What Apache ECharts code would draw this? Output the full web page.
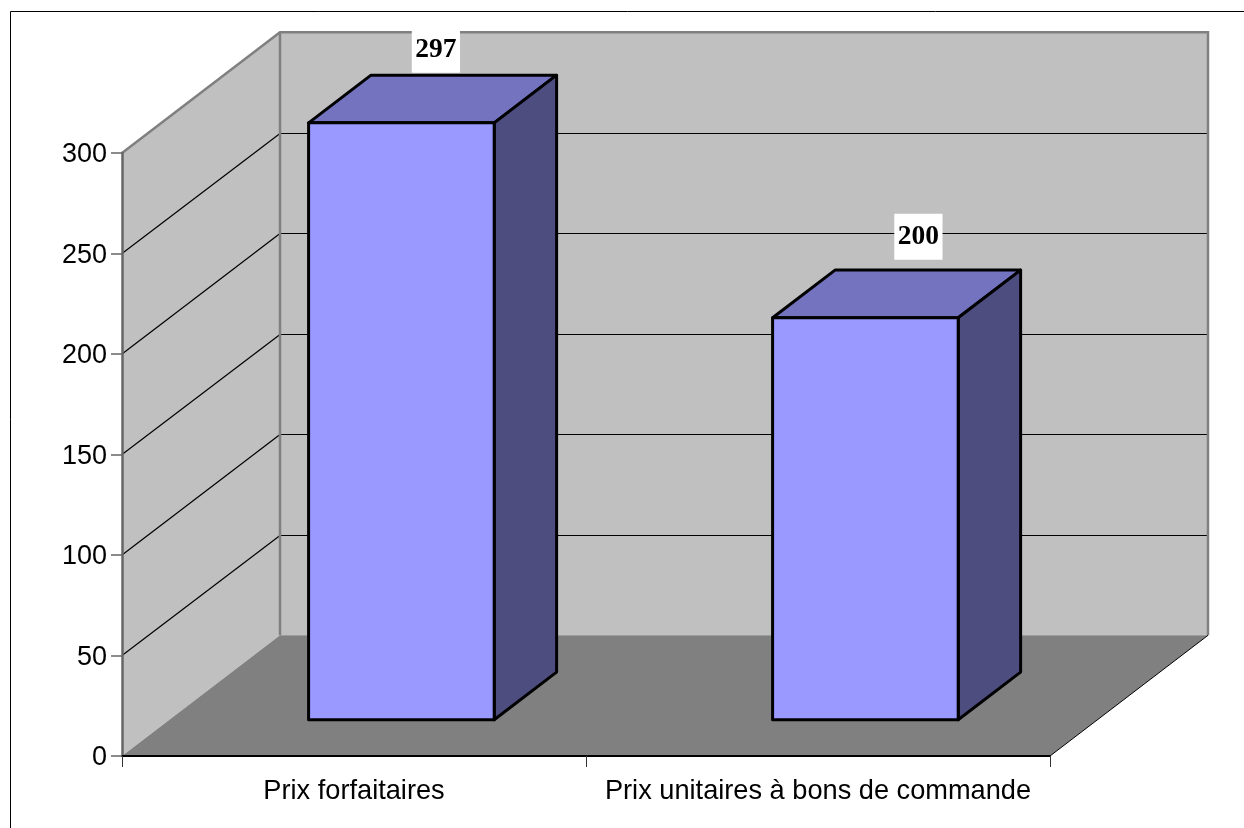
<!DOCTYPE html>
<html>
<head>
<meta charset="utf-8">
<style>html,body{margin:0;padding:0;background:#fff}#c{width:1244px;height:828px}</style>
<script src="https://cdn.jsdelivr.net/npm/echarts@6/dist/echarts.min.js"></script>
</head>
<body>
<div id="c"></div>
<script>
const categories = ['Prix forfaitaires', 'Prix unitaires à bons de commande'];
const values = [297, 200];
const yTicks = [50, 100, 150, 200, 250, 300];

// 3D look: oblique projection of the chart box, in pixels
const BOX_DX = 158, BOX_DY = -120.7;
const BAR_INSET = 0.3, BAR_DEPTH = 0.395, BAR_WIDTH = 0.4;
// Value-label placement relative to the bar's top-front centre
const LABEL_SHIFT = [[34.5, -73], [53, -81]];

const chart = echarts.init(document.getElementById('c'), null, {renderer: 'canvas'});

function poly(points, fill, stroke, lw) {
  return {type: 'polygon', shape: {points}, style: {fill, stroke: stroke || 'none', lineWidth: lw || 0, lineJoin: 'round'}};
}
function line(points, stroke, lw) {
  return {type: 'polyline', shape: {points}, style: {fill: 'none', stroke, lineWidth: lw}};
}

function renderBox(params, api) {
  const y0 = api.coord([0, 0])[1];
  const yT = api.coord([0, 300])[1];
  const cs = params.coordSys;
  const xL = cs.x, xR = cs.x + cs.width;
  const dx = BOX_DX, dy = BOX_DY;
  const kids = [];
  kids.push(poly([[xL, y0], [xL + dx, y0 + dy], [xL + dx, yT + dy], [xL, yT]], '#C0C0C0'));
  kids.push(poly([[xL + dx, y0 + dy], [xR + dx, y0 + dy], [xR + dx, yT + dy], [xL + dx, yT + dy]], '#C0C0C0'));
  kids.push(poly([[xL, y0], [xR, y0], [xR + dx, y0 + dy], [xL + dx, y0 + dy]], '#808080'));
  yTicks.forEach(v => {
    const y = api.coord([0, v])[1];
    if (v < 300) {
      const back = Math.round(y + dy) + 0.5;
      kids.push(line([[xL, y], [xL + dx, back]], '#000', 1.2));
      kids.push(line([[xL + dx, back], [xR + dx, back]], '#000', 1));
    }
  });
  kids.push(line([[xL, yT], [xL + dx, yT + dy], [xR + dx, yT + dy], [xR + dx, y0 + dy]], '#808080', 2.5));
  kids.push(line([[xL + dx, yT + dy], [xL + dx, y0 + dy]], '#808080', 2.5));
  kids.push(line([[xR, y0], [xR + dx, y0 + dy]], '#000', 1));
  return {type: 'group', children: kids};
}

function renderBar(params, api) {
  const idx = api.value(0), val = api.value(1);
  const band = api.size([1, 0])[0];
  const w = band * BAR_WIDTH;
  const c0 = api.coord([idx, 0]), c1 = api.coord([idx, val]);
  const ox = BOX_DX * BAR_INSET, oy = BOX_DY * BAR_INSET;
  const ddx = BOX_DX * BAR_DEPTH, ddy = BOX_DY * BAR_DEPTH;
  const L = c0[0] - w / 2 + ox, R = c0[0] + w / 2 + ox;
  const B = c0[1] + oy, T = c1[1] + oy;
  const lw = 3;
  const s = LABEL_SHIFT[params.dataIndex];
  return {type: 'group', children: [
    poly([[L, T], [R, T], [R + ddx, T + ddy], [L + ddx, T + ddy]], '#7373BF', '#000', lw),
    poly([[R, B], [R + ddx, B + ddy], [R + ddx, T + ddy], [R, T]], '#4D4D80', '#000', lw),
    poly([[L, B], [R, B], [R, T], [L, T]], '#9999FF', '#000', lw),
    {type: 'text', z2: 10, style: {
      text: String(val), x: (L + R) / 2 + s[0], y: T + s[1],
      align: 'center', verticalAlign: 'middle',
      font: 'bold 27.5px "Liberation Serif"', fill: '#000',
      backgroundColor: '#fff', padding: [11, 3.5, 7, 3.5]
    }}
  ]};
}

chart.setOption({
  animation: false,
  backgroundColor: '#fff',
  grid: {left: 122, right: 194, top: 153, bottom: 72, containLabel: false},
  xAxis: {
    type: 'category', data: categories, z: 3,
    axisLine: {show: true, lineStyle: {color: '#000', width: 2}},
    axisTick: {show: true, alignWithLabel: false, length: 11, lineStyle: {color: '#333', width: 1}},
    axisLabel: {interval: 0, margin: 22, color: '#000', fontFamily: 'Liberation Sans', fontSize: 27.2},
    splitLine: {show: false}
  },
  yAxis: {
    type: 'value', min: 0, max: 300, interval: 50, z: 3,
    axisLine: {show: true, lineStyle: {color: '#666', width: 2.5}},
    axisTick: {show: true, length: 11, lineStyle: {color: '#666', width: 1.5}},
    axisLabel: {margin: 15, color: '#000', fontFamily: 'Liberation Sans', fontSize: 27, verticalAlign: 'top', lineHeight: 4},
    splitLine: {show: false}
  },
  graphic: [{
    type: 'polyline', silent: true,
    shape: {points: [[10.5, 828], [10.5, 11.5], [1244, 11.5]]},
    style: {fill: 'none', stroke: '#000', lineWidth: 1}
  }],
  series: [
    {type: 'custom', z: 1, silent: true, renderItem: renderBox, data: [[0, 0]], encode: {x: 0, y: 1}},
    {type: 'custom', z: 4, silent: true, renderItem: renderBar,
     data: values.map((v, i) => [i, v]), encode: {x: 0, y: 1}}
  ]
});
</script>
</body>
</html>
